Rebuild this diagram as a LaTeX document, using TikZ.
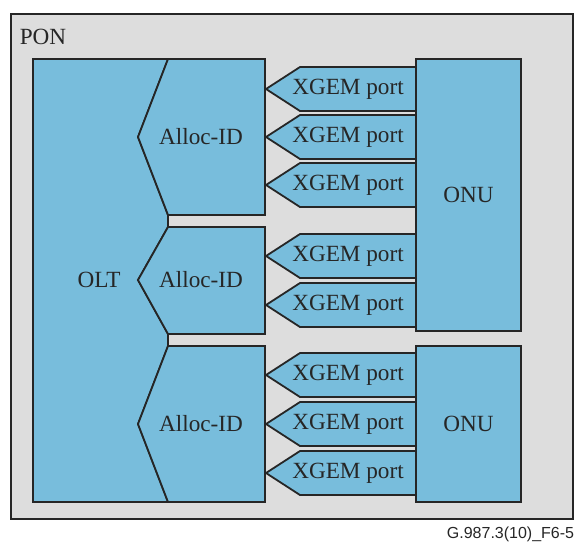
\documentclass[tikz,border=0pt]{standalone}
\usepackage{fontspec}
\setmainfont{Liberation Serif}
\newfontfamily\capfont{Liberation Sans}
\definecolor{ponblau}{HTML}{78BDDC}
\definecolor{pongrau}{HTML}{DDDDDD}
\definecolor{linie}{HTML}{262626}
\usetikzlibrary{positioning}

\begin{document}
\begin{tikzpicture}[x=0.5pt, y=-0.5pt,
        line width=0.9pt, line join=miter,
        blk/.style={draw=linie, fill=ponblau},
        lbl/.style={font=\fontsize{11.6}{13}\selectfont, text=linie, inner sep=0pt},
        onu/.style={blk, minimum width=52.5pt, minimum height=#1,
                    font=\fontsize{11.6}{13}\selectfont, text=linie}
      ]
      \useasboundingbox (0,0) rectangle (577,543);
      \draw[draw=linie, fill=pongrau] (11,14) rectangle (573,519);
      \node[lbl] (pon) at (43,37) {PON};

      % OLT with its three Alloc-IDs
      \draw[blk] (33,59) -- (168,59) -- (138,137) -- (168,215) -- (168,227)
        -- (138,280) -- (168,334) -- (168,346) -- (138,424) -- (168,502)
        -- (33,502) -- cycle;
      \draw[blk] (168,59) -- (265,59) -- (265,215) -- (168,215) -- (138,137) -- cycle;
      \draw[blk] (168,227) -- (265,227) -- (265,334) -- (168,334) -- (138,280) -- cycle;
      \draw[blk] (168,346) -- (265,346) -- (265,502) -- (168,502) -- (138,424) -- cycle;
      \node[lbl] (olt) at (99,280) {OLT};
      \node[lbl] (alloc1) at (201,137) {Alloc-ID};
      \node[lbl] (alloc2) at (201,280) {Alloc-ID};
      \node[lbl] (alloc3) at (201,424) {Alloc-ID};

      % XGEM ports
      \foreach \y [count=\i] in {89,137,185,256,305,375,424,473} {
        \draw[blk] (266,\y) -- (300,\y-22) -- (416,\y-22) -- (416,\y+22)
          -- (300,\y+22) -- cycle;
        \node[lbl] (port\i) at (348,\y) {XGEM port};
      }

      \node[onu=136pt] (onu1) at (468.5,195) {ONU};
      \node[onu=78pt]  (onu2) at (468.5,424) {ONU};

      \node[anchor=east, inner sep=0pt, font=\capfont\fontsize{8}{10}\selectfont,
            text=linie] (fig) at (575,534) {G.987.3(10)\_F6-5};
    \end{tikzpicture}
\end{document}
